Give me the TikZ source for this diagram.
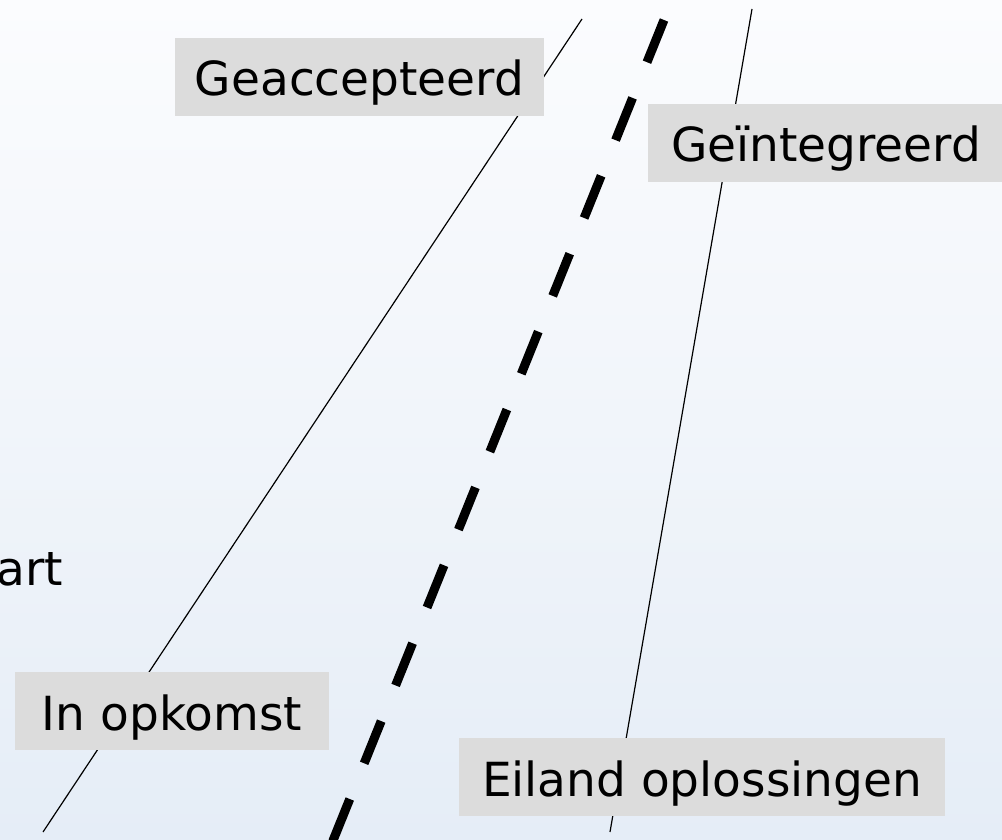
\documentclass[tikz,border=0pt]{standalone}
\usepackage{fontspec}
\newfontfamily\labelfont{DejaVu Sans}
\definecolor{skytop}{HTML}{FBFCFE}
\definecolor{skymid}{HTML}{F1F5FA}
\definecolor{skybottom}{HTML}{E5EDF7}
\definecolor{tagfill}{HTML}{DCDCDC}
\begin{document}
\begin{tikzpicture}[x=1pt,y=-1pt,
  tag/.style={fill=tagfill, inner xsep=0pt, inner ysep=0pt,
    text height=58pt, text depth=20pt, anchor=base,
    font=\labelfont\fontsize{47}{56}\selectfont},
  plaintext/.style={inner sep=0pt, font=\labelfont\fontsize{47}{56}\selectfont},
  trackline/.style={line width=1.2pt, black},
  divider/.style={line width=9pt, black, line cap=butt,
    dash pattern=on 45.5pt off 38.5pt}]
  % canvas and soft vertical gradient
  \useasboundingbox (0,0) rectangle (1002,840);
  \clip (0,0) rectangle (1002,840);
  \shade[top color=skytop, bottom color=skybottom, middle color=skymid]
    (0,0) rectangle (1002,840);

  % end points of the three tracks
  \coordinate (accBottom) at (43,832);
  \coordinate (accTop)    at (582,19);
  \coordinate (divTop)    at (664,20);
  \coordinate (divBottom) at (330,848);
  \coordinate (intTop)    at (752,9);
  \coordinate (intBottom) at (610,832);

  \draw[trackline] (accBottom) -- (accTop);
  \draw[divider] (divTop) -- (divBottom);
  \draw[trackline] (intTop) -- (intBottom);

  % labels
  \node[tag, minimum width=369pt] (geaccepteerd) at (359.5,96) {Geaccepteerd};
  \node[tag, minimum width=356pt, anchor=base west] (geintegreerd) at (648,162) {Geïntegreerd};
  \node[tag, minimum width=314pt] (opkomst) at (172,730) {In opkomst};
  \node[tag, minimum width=486pt] (eiland) at (702,796) {Eiland oplossingen};
  \node[plaintext, anchor=base east] (art) at (63,585) {art};
\end{tikzpicture}
\end{document}
